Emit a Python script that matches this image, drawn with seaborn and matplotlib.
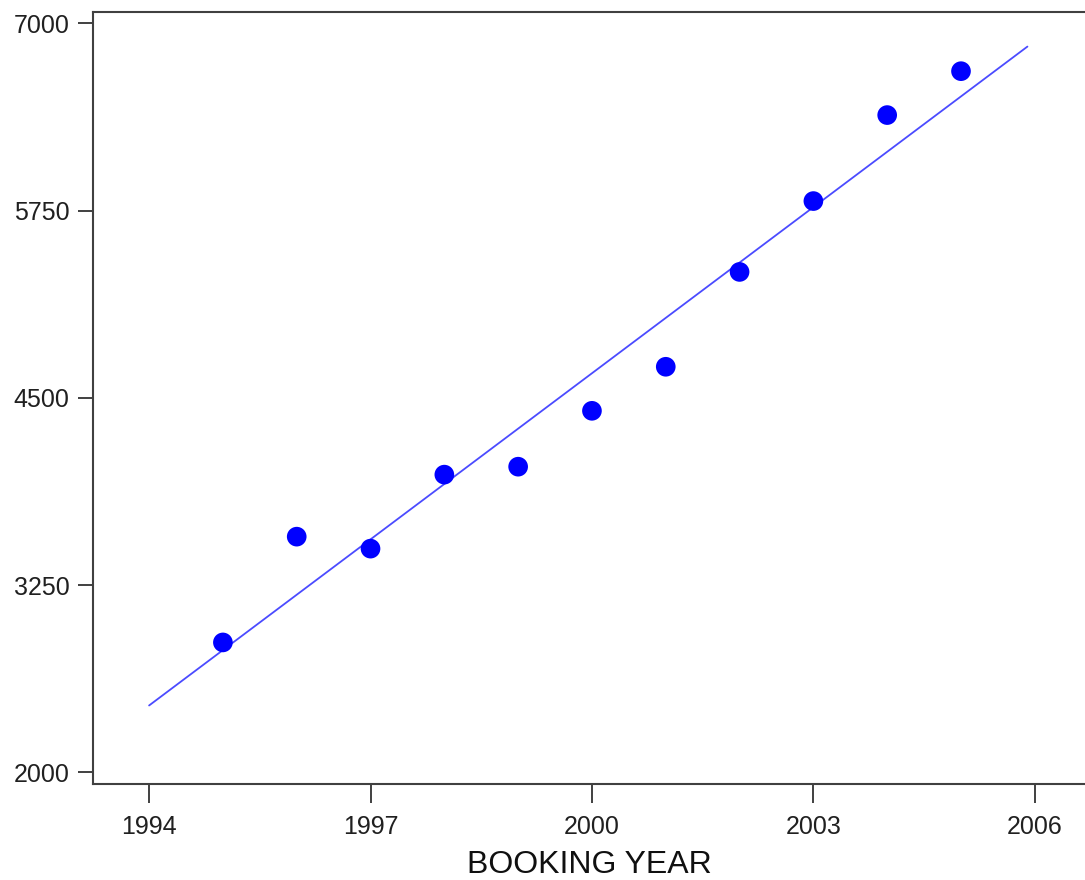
import matplotlib
matplotlib.use("Agg")
import matplotlib.pyplot as plt
import seaborn as sns
import numpy as np
import pandas as pd

years = [1995, 1996, 1997, 1998, 1999, 2000, 2001, 2002, 2003, 2004, 2005]
bookings = [2867, 3573, 3493, 3987, 4040, 4413, 4707, 5340, 5813, 6387, 6680]
x_ticks = [1994, 1997, 2000, 2003, 2006]
y_ticks = [2000, 3250, 4500, 5750, 7000]
fit_range = (1994, 2005.9)

sns.set_theme(style="white")
plt.rcParams['font.family'] = ['Liberation Sans', 'DejaVu Sans']

df = pd.DataFrame({"year": years, "bookings": bookings})

fig = plt.figure(figsize=(10.85, 8.8), dpi=100)
ax = fig.add_axes([93 / 1085, 1 - 784 / 880, 1 - 93 / 1085, (784 - 12) / 880])

ax.set_xlim(*fit_range)
sns.regplot(data=df, x="year", y="bookings", ax=ax, ci=None, truncate=False,
            scatter_kws=dict(s=200, color="#0000ff", edgecolor="none", alpha=1, zorder=3),
            line_kws=dict(color="#4b4bff", linewidth=1.3, zorder=2))

ax.set_xlim(1993.24, 2006.68)
ax.set_ylim(1922, 7075)
ax.set_xticks(x_ticks)
ax.set_yticks(y_ticks)
ax.set_xticklabels([str(t) for t in x_ticks])
ax.set_yticklabels([str(t) for t in y_ticks])

for side in ["left", "top", "bottom"]:
    ax.spines[side].set_visible(True)
    ax.spines[side].set_color("#404040")
    ax.spines[side].set_linewidth(1.5)
ax.spines["right"].set_visible(False)

ax.tick_params(axis="both", direction="out", bottom=True, left=True, top=False, right=False,
               width=1.2, color="#202020", labelsize=18, labelcolor="#202020")
ax.tick_params(axis="x", length=14, pad=8)
ax.tick_params(axis="y", length=11, pad=6)

ax.set_xlabel("BOOKING YEAR", fontsize=23, color="#101010", labelpad=8)
ax.set_ylabel("")
ax.grid(False)

fig.savefig("out.png", dpi=100, facecolor="white")
